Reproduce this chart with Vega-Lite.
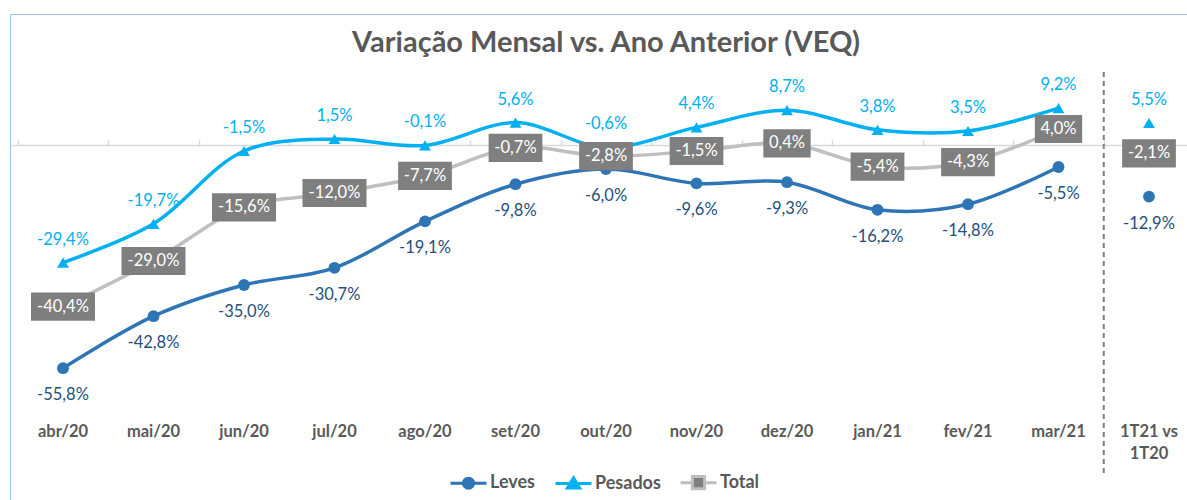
{
  "$schema": "https://vega.github.io/schema/vega-lite/v6.json",
  "width": 1192,
  "height": 490,
  "autosize": {"type": "none"},
  "padding": {"left": 10, "top": 14, "right": 0, "bottom": 0},
  "background": "white",
  "title": {
    "text": "Variação Mensal vs. Ano Anterior (VEQ)",
    "font": "Lato",
    "fontSize": 29,
    "fontWeight": "bold",
    "color": "#595959",
    "anchor": "middle",
    "baseline": "alphabetic",
    "offset": -67
  },
  "datasets": {
    "d": [
      {"mes": "abr/20", "serie": "Leves", "valor": -55.8},
      {"mes": "mai/20", "serie": "Leves", "valor": -42.8},
      {"mes": "jun/20", "serie": "Leves", "valor": -35.0},
      {"mes": "jul/20", "serie": "Leves", "valor": -30.7},
      {"mes": "ago/20", "serie": "Leves", "valor": -19.1},
      {"mes": "set/20", "serie": "Leves", "valor": -9.8},
      {"mes": "out/20", "serie": "Leves", "valor": -6.0},
      {"mes": "nov/20", "serie": "Leves", "valor": -9.6},
      {"mes": "dez/20", "serie": "Leves", "valor": -9.3},
      {"mes": "jan/21", "serie": "Leves", "valor": -16.2},
      {"mes": "fev/21", "serie": "Leves", "valor": -14.8},
      {"mes": "mar/21", "serie": "Leves", "valor": -5.5},
      {"mes": "1T21 vs 1T20", "serie": "Leves", "valor": -12.9},
      {"mes": "abr/20", "serie": "Pesados", "valor": -29.4},
      {"mes": "mai/20", "serie": "Pesados", "valor": -19.7},
      {"mes": "jun/20", "serie": "Pesados", "valor": -1.5},
      {"mes": "jul/20", "serie": "Pesados", "valor": 1.5},
      {"mes": "ago/20", "serie": "Pesados", "valor": -0.1},
      {"mes": "set/20", "serie": "Pesados", "valor": 5.6},
      {"mes": "out/20", "serie": "Pesados", "valor": -0.6},
      {"mes": "nov/20", "serie": "Pesados", "valor": 4.4},
      {"mes": "dez/20", "serie": "Pesados", "valor": 8.7},
      {"mes": "jan/21", "serie": "Pesados", "valor": 3.8},
      {"mes": "fev/21", "serie": "Pesados", "valor": 3.5},
      {"mes": "mar/21", "serie": "Pesados", "valor": 9.2},
      {"mes": "1T21 vs 1T20", "serie": "Pesados", "valor": 5.5},
      {"mes": "abr/20", "serie": "Total", "valor": -40.4},
      {"mes": "mai/20", "serie": "Total", "valor": -29.0},
      {"mes": "jun/20", "serie": "Total", "valor": -15.6},
      {"mes": "jul/20", "serie": "Total", "valor": -12.0},
      {"mes": "ago/20", "serie": "Total", "valor": -7.7},
      {"mes": "set/20", "serie": "Total", "valor": -0.7},
      {"mes": "out/20", "serie": "Total", "valor": -2.8},
      {"mes": "nov/20", "serie": "Total", "valor": -1.5},
      {"mes": "dez/20", "serie": "Total", "valor": 0.4},
      {"mes": "jan/21", "serie": "Total", "valor": -5.4},
      {"mes": "fev/21", "serie": "Total", "valor": -4.3},
      {"mes": "mar/21", "serie": "Total", "valor": 4.0},
      {"mes": "1T21 vs 1T20", "serie": "Total", "valor": -2.1}
    ]
  },
  "data": {"name": "d"},
  "transform": [
    {"calculate": "(datum.valor < 0 ? '-' : '') + replace(format(abs(datum.valor), '.1f'), '.', ',') + '%'", "as": "rotulo"}
  ],
  "encoding": {
    "x": {
      "field": "mes", "type": "nominal",
      "sort": ["abr/20","mai/20","jun/20","jul/20","ago/20","set/20","out/20","nov/20","dez/20","jan/21","fev/21","mar/21","1T21 vs 1T20"],
      "scale": {"type": "band", "paddingInner": 0, "paddingOuter": 0.0856},
      "axis": null
    },
    "y": {
      "field": "valor", "type": "quantitative",
      "scale": {"domain": [-89.75, 32.75], "nice": false, "zero": false},
      "axis": null
    }
  },
  "layer": [
    {
      "transform": [{"filter": "datum.serie === 'Total' && datum.mes !== '1T21 vs 1T20'"}],
      "mark": {"type": "line", "interpolate": "catmull-rom", "strokeWidth": 3.5, "color": "#bfbfbf"},
      "encoding": {
        "x": {
          "field": "mes", "type": "nominal",
          "sort": ["abr/20","mai/20","jun/20","jul/20","ago/20","set/20","out/20","nov/20","dez/20","jan/21","fev/21","mar/21","1T21 vs 1T20"],
          "axis": {"orient": "top", "offset": -131, "labels": false, "domain": true, "domainColor": "#d9d9d9", "domainWidth": 1.5, "ticks": true, "tickColor": "#d9d9d9", "tickWidth": 1.5, "tickSize": 5, "tickBand": "extent", "title": null, "grid": false}
        }
      }
    },
    {
      "transform": [{"filter": "datum.serie === 'Leves' && datum.mes !== '1T21 vs 1T20'"}],
      "mark": {"type": "line", "interpolate": "catmull-rom", "strokeWidth": 3.5, "color": "#2e75b6"},
      "encoding": {
        "x": {
          "field": "mes", "type": "nominal",
          "sort": ["abr/20","mai/20","jun/20","jul/20","ago/20","set/20","out/20","nov/20","dez/20","jan/21","fev/21","mar/21","1T21 vs 1T20"],
          "axis": {"orient": "bottom", "offset": -81, "domain": false, "ticks": false, "labelPadding": 0, "labelAngle": 0, "labelFont": "Lato", "labelFontSize": 16.5, "labelFontWeight": "bold", "labelColor": "#595959", "labelLineHeight": 22, "labelOverlap": false, "labelExpr": "datum.value === '1T21 vs 1T20' ? ['1T21 vs', '1T20'] : datum.label", "title": null, "grid": false}
        }
      }
    },
    {
      "transform": [{"filter": "datum.serie === 'Pesados' && datum.mes !== '1T21 vs 1T20'"}],
      "mark": {"type": "line", "interpolate": "catmull-rom", "strokeWidth": 3.5, "color": "#00b0f0"}
    },
    {
      "transform": [{"filter": "datum.serie === 'Leves' && datum.mes === '1T21 vs 1T20'"}],
      "mark": {"type": "rule", "color": "#7f7f7f", "strokeWidth": 2, "strokeDash": [5, 4]},
      "encoding": {
        "x": {
          "field": "mes", "type": "nominal", "bandPosition": 0,
          "sort": ["abr/20","mai/20","jun/20","jul/20","ago/20","set/20","out/20","nov/20","dez/20","jan/21","fev/21","mar/21","1T21 vs 1T20"]
        },
        "y": {"datum": 18.25, "type": "quantitative"},
        "y2": {"datum": -82.5}
      }
    },
    {
      "mark": {"type": "point", "filled": true, "opacity": 1, "size": 140},
      "encoding": {
        "color": {
          "condition": [
            {"test": "datum.serie === 'Leves'", "value": "#2e75b6"},
            {"test": "datum.serie === 'Pesados'", "value": "#00b0f0"}
          ],
          "value": "#7f7f7f"
        },
        "shape": {
          "condition": [
            {"test": "datum.serie === 'Leves'", "value": "circle"},
            {"test": "datum.serie === 'Pesados'", "value": "triangle-up"}
          ],
          "value": "square"
        }
      }
    },
    {
      "transform": [{"filter": "false"}],
      "mark": {"type": "point", "filled": true, "opacity": 1, "strokeWidth": 3},
      "encoding": {
        "fill": {
          "field": "serie", "type": "nominal",
          "scale": {"domain": ["Leves", "Pesados", "Total"], "range": ["#2e75b6", "#00b0f0", "#7f7f7f"]}
        },
        "stroke": {
          "field": "serie", "type": "nominal",
          "scale": {"domain": ["Leves", "Pesados", "Total"], "range": ["#2e75b6", "#00b0f0", "#bfbfbf"]}
        },
        "shape": {
          "field": "serie", "type": "nominal",
          "scale": {
            "domain": ["Leves", "Pesados", "Total"],
            "range": [
              "M-1,0H1M-0.28,0A0.28,0.28 0 1,1 0.28,0A0.28,0.28 0 1,1 -0.28,0Z",
              "M-1,0H1M0,-0.32L0.34,0.24H-0.34Z",
              "M-1,0H-0.36M0.36,0H1M-0.34,-0.34H0.34V0.34H-0.34Z"
            ]
          }
        }
      }
    },
    {
      "transform": [{"filter": "datum.serie === 'Pesados'"}],
      "mark": {"type": "text", "dy": -23, "color": "#00b0f0", "font": "Lato", "fontSize": 16.5, "baseline": "middle"},
      "encoding": {
        "text": {"field": "rotulo"},
        "fontWeight": {"condition": {"test": "datum.mes === '1T21 vs 1T20'", "value": "bold"}, "value": "normal"}
      }
    },
    {
      "transform": [{"filter": "datum.serie === 'Leves'"}],
      "mark": {"type": "text", "dy": 27, "color": "#24507c", "font": "Lato", "fontSize": 16.5, "baseline": "middle"},
      "encoding": {
        "text": {"field": "rotulo"},
        "fontWeight": {"condition": {"test": "datum.mes === '1T21 vs 1T20'", "value": "bold"}, "value": "normal"}
      }
    },
    {
      "transform": [{"filter": "datum.serie === 'Total'"}],
      "mark": {"type": "point", "filled": true, "opacity": 1, "color": "#7f7f7f", "strokeWidth": 0, "size": 4096},
      "encoding": {
        "shape": {
          "condition": [
            {"test": "length(datum.rotulo) >= 6", "value": "M-1,-0.44H1V0.44H-1Z"},
            {"test": "length(datum.rotulo) === 5", "value": "M-0.84,-0.44H0.84V0.44H-0.84Z"}
          ],
          "value": "M-0.74,-0.44H0.74V0.44H-0.74Z"
        }
      }
    },
    {
      "transform": [{"filter": "datum.serie === 'Total'"}],
      "mark": {"type": "text", "color": "white", "font": "Lato", "fontSize": 16.5, "baseline": "middle"},
      "encoding": {
        "text": {"field": "rotulo"},
        "fontWeight": {"condition": {"test": "datum.mes === '1T21 vs 1T20'", "value": "bold"}, "value": "normal"}
      }
    }
  ],
  "resolve": {"axis": {"x": "independent"}},
  "config": {
    "view": {"stroke": "#9dc3e6", "strokeWidth": 1},
    "font": "Lato",
    "legend": {
      "orient": "none", "legendX": 439, "legendY": 449, "direction": "horizontal", "title": null,
      "labelFont": "Lato", "labelFontSize": 18, "labelFontWeight": "bold", "labelColor": "#595959",
      "symbolSize": 1296, "symbolStrokeWidth": 3, "labelOffset": 2, "columnPadding": 13
    }
  }
}
